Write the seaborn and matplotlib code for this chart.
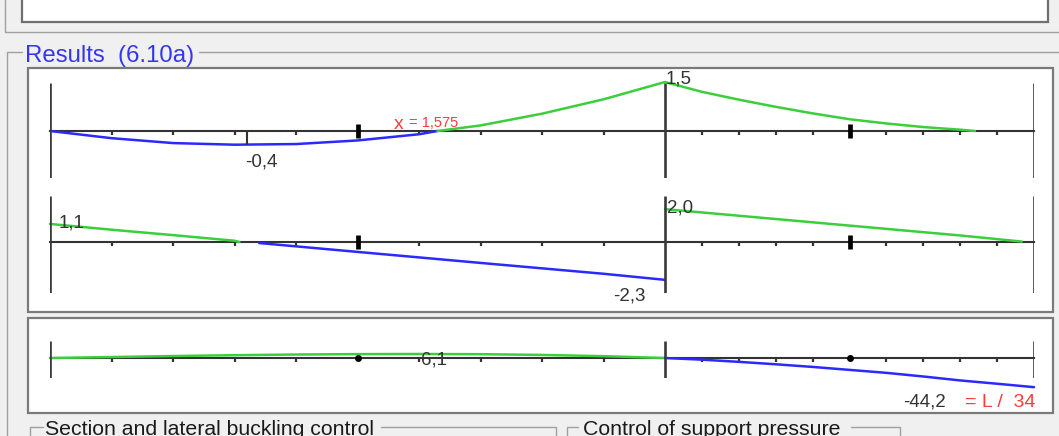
import numpy as np
import matplotlib
matplotlib.use("Agg")
import matplotlib.pyplot as plt
from matplotlib.patches import Rectangle
from matplotlib.lines import Line2D
import seaborn as sns

# Estilo
sns.set_style("white")
plt.rcParams['font.family'] = ['Liberation Sans', 'DejaVu Sans']

W, H = 1059, 436

# Geometria da viga (m)
supports = [0.0, 2.5, 4.0]
mid_ticks = [1.25, 3.25]
minor_ticks = [0.25, 0.5, 0.75, 1.0, 1.5, 1.75, 2.0, 2.25,
               2.65, 2.8, 2.95, 3.1, 3.4, 3.55, 3.7, 3.85]

# Momento (kNm)
moment_neg_x = [0.0, 0.25, 0.5, 0.75, 1.0, 1.25, 1.5, 1.575]
moment_neg_y = [0.0, -0.22, -0.37, -0.42, -0.40, -0.29, -0.10, 0.0]
moment_pos_x = [1.575, 1.75, 2.0, 2.25, 2.5, 2.65, 2.8, 2.95, 3.1, 3.25, 3.4, 3.55, 3.7, 3.76]
moment_pos_y = [0.0, 0.17, 0.53, 0.97, 1.5, 1.2, 0.96, 0.74, 0.54, 0.36, 0.23, 0.12, 0.04, 0.0]
moment_min_x = 0.8
moment_min = -0.42

# Cortante (kN)
shear_pos1_x = [0.0, 0.25, 0.5, 0.75, 0.77]
shear_pos1_y = [1.1, 0.75, 0.42, 0.08, 0.0]
shear_neg_x = [0.85, 1.25, 1.75, 2.25, 2.5]
shear_neg_y = [-0.06, -0.60, -1.27, -1.93, -2.3]
shear_pos2_x = [2.5, 2.8, 3.1, 3.4, 3.7, 3.95]
shear_pos2_y = [2.0, 1.6, 1.2, 0.8, 0.4, 0.03]

# Flecha (mm)
defl_pos_x = [0.0, 0.25, 0.5, 0.75, 1.0, 1.25, 1.5, 1.75, 2.0, 2.25, 2.5]
defl_pos_y = [0.0, 1.5, 3.0, 4.3, 5.3, 5.9, 6.1, 5.8, 4.7, 2.8, 0.0]
defl_neg_x = [2.5, 2.65, 2.8, 2.95, 3.1, 3.25, 3.4, 3.55, 3.7, 3.85, 4.0]
defl_neg_y = [0.0, -2.5, -5.8, -9.5, -13.5, -18.0, -22.5, -28.0, -34.0, -39.0, -44.2]

GREEN = '#3ccf3c'
BLUE = '#2a2aff'
RED = '#ff3b3b'
DARK = '#333333'


def fx(px):
    return px / W


def fy(py):
    return 1 - py / H


def fig_line(fig, xs, ys, color='#a0a0a0', lw=1.0):
    fig.add_artist(Line2D([fx(x) for x in xs], [fy(y) for y in ys],
                          transform=fig.transFigure, color=color, lw=lw))


def fig_rect(fig, x0, y0, x1, y1, face='white', edge='#7a7a7a', lw=1.3):
    fig.add_artist(Rectangle((fx(x0), fy(y1)), (x1 - x0) / W, (y1 - y0) / H,
                             transform=fig.transFigure, facecolor=face,
                             edgecolor=edge, lw=lw, zorder=0))


def diagram_axes(fig, top, bottom, ylim, dot_mid=False):
    """Eixo de um diagrama posicionado em pixels"""
    left, right = 50, 1034
    ax = fig.add_axes([fx(left), fy(bottom), (right - left) / W, (bottom - top) / H])
    ax.set_xlim(0, 4.0)
    ax.set_ylim(*ylim)
    ax.set_facecolor('none')
    for s in ['top', 'right', 'left']:
        ax.spines[s].set_visible(False)
    ax.spines['bottom'].set_position(('data', 0))
    ax.spines['bottom'].set_color(DARK)
    ax.spines['bottom'].set_linewidth(1.5)
    ax.spines['bottom'].set_zorder(1)
    ax.set_xticks(minor_ticks)
    ax.tick_params(axis='x', bottom=True, direction='out', length=3, width=1.6,
                   color=DARK, labelbottom=False)
    ax.set_yticks([])
    ax.vlines(supports, ylim[0], ylim[1], color='#3a3a3a', lw=1.9, zorder=3)
    if dot_mid:
        ax.plot(mid_ticks, [0, 0], 'o', color='black', ms=4, zorder=4)
    else:
        ax.plot(mid_ticks, [0, 0], '|', color='black', ms=10, mew=3.4, zorder=4)
    return ax


def draw_line(ax, x, y, color):
    sns.lineplot(x=np.array(x), y=np.array(y), color=color, ax=ax,
                 linewidth=1.8, estimator=None, sort=False, zorder=2)
    for l in ax.lines[-1:]:
        l.set_clip_on(False)


def label(ax, text, xy, off, ha='left', color=DARK, size=13.5):
    ax.annotate(text, xy=xy, xytext=off, textcoords='offset pixels',
                ha=ha, va='center', color=color, fontsize=size,
                annotation_clip=False)


fig = plt.figure(figsize=(W / 100, H / 100), dpi=100)
fig.patch.set_facecolor('#f0f0f0')

# Moldura da interface
fig_rect(fig, 22, -4, 1048, 22, edge='#6f6f6f', lw=1.6)
fig_line(fig, [5, 5, 1059], [0, 32, 32])
fig_line(fig, [7, 7, 22], [436, 52, 52])
fig_line(fig, [199, 1059], [52, 52])
fig_rect(fig, 28, 68, 1053, 312, edge='#7a7a7a', lw=1.6)
fig_rect(fig, 28, 318, 1053, 413, edge='#7a7a7a', lw=1.6)
fig_line(fig, [30, 30, 43], [440, 427, 427])
fig_line(fig, [381, 556, 556], [427, 427, 440])
fig_line(fig, [567, 567, 578], [440, 427, 427])
fig_line(fig, [851, 900, 900], [427, 427, 440])

fig.text(fx(25), fy(56), 'Results  (6.10a)', color='#3535f5', fontsize=17.3,
         va='center', ha='left')
fig.text(fx(45), fy(420), 'Section and lateral buckling control', color='#1a1a1a',
         fontsize=15.3, va='top', ha='left')
fig.text(fx(583), fy(420), 'Control of support pressure', color='#1a1a1a',
         fontsize=15.3, va='top', ha='left')

# Diagrama de momentos
ax_m = diagram_axes(fig, 83, 178, (-1.44, 1.47))
draw_line(ax_m, moment_neg_x, moment_neg_y, BLUE)
draw_line(ax_m, moment_pos_x, moment_pos_y, GREEN)
ax_m.vlines([moment_min_x], moment_min, 0, color=DARK, lw=1.5, zorder=3)
label(ax_m, '1,5', (2.5, 1.5), (1, 3))
label(ax_m, '-0,4', (moment_min_x, moment_min), (-2, -17))
label(ax_m, '= 1,575', (1.575, 0.0), (21, 8), ha='right', color=RED, size=10.5)
label(ax_m, 'x', (1.575, 0.0), (-34, 6), ha='right', color=RED, size=14)

# Diagrama de esforço cortante
ax_v = diagram_axes(fig, 196, 293, (-3.1, 2.8))
draw_line(ax_v, shear_pos1_x, shear_pos1_y, GREEN)
draw_line(ax_v, shear_neg_x, shear_neg_y, BLUE)
draw_line(ax_v, shear_pos2_x, shear_pos2_y, GREEN)
label(ax_v, '1,1', (0.0, 1.1), (9, 1))
label(ax_v, '2,0', (2.5, 2.0), (2, 1))
label(ax_v, '-2,3', (2.5, -2.3), (-19, -16), ha='right')

# Diagrama de flechas
ax_d = diagram_axes(fig, 341, 378, (-30.3, 25.8), dot_mid=True)
draw_line(ax_d, defl_pos_x, defl_pos_y, GREEN)
draw_line(ax_d, defl_neg_x, defl_neg_y, BLUE)
label(ax_d, '6,1', (1.5, 6.1), (2, -6))
label(ax_d, '-44,2', (4.0, -44.2), (-88, -15), ha='right')
label(ax_d, '= L /  34', (4.0, -44.2), (1, -15), ha='right', color=RED, size=14)

fig.savefig('out.png', dpi=100, facecolor=fig.get_facecolor())
